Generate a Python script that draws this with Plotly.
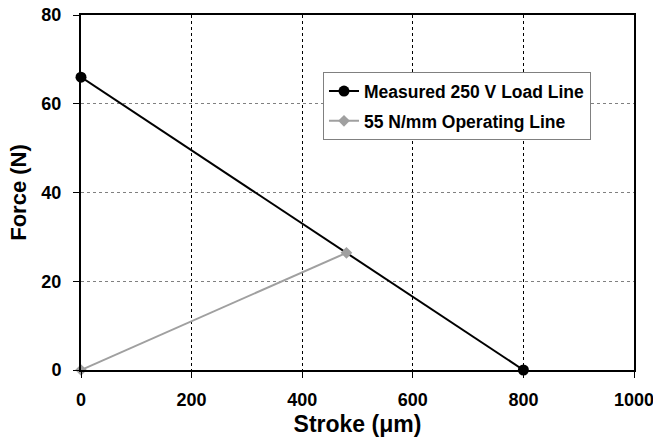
import plotly.graph_objects as go

load_x = [0, 800]
load_y = [66, 0]
op_x = [0, 480]
op_y = [0, 26.4]

x_ticks = [0, 200, 400, 600, 800, 1000]
y_ticks = [0, 20, 40, 60, 80]

fig = go.Figure()
fig.add_trace(go.Scatter(x=load_x, y=load_y, mode="lines+markers",
                         name="Measured 250 V Load Line", legendgroup="a",
                         line=dict(color="black", width=2),
                         marker=dict(symbol="circle", size=11, color="black"),
                         cliponaxis=False))
fig.add_trace(go.Scatter(x=op_x, y=op_y, mode="lines+markers",
                         name="55 N/mm Operating Line", legendgroup="b",
                         line=dict(color="#a0a0a0", width=2),
                         marker=dict(symbol="diamond", size=9, color="#a0a0a0"),
                         cliponaxis=False))

font = "Liberation Sans, Arial, sans-serif"
fig.update_layout(
    width=653, height=440,
    margin=dict(l=81, r=19, t=15, b=70),
    paper_bgcolor="white", plot_bgcolor="white",
    font=dict(family=font, color="black"),
    showlegend=True,
    legend=dict(x=0.4376, y=0.839, xanchor="left", yanchor="top",
                bgcolor="white", bordercolor="#808080", borderwidth=1,
                font=dict(size=17.5, family=font, color="black", weight="bold"),
                itemwidth=30, tracegroupgap=4),
    xaxis=dict(range=[0, 1000], tickvals=x_ticks, ticktext=[str(v) for v in x_ticks],
               showgrid=True, gridcolor="black", griddash="dot", gridwidth=1,
               showline=True, linecolor="black", linewidth=2, mirror=True,
               ticks="outside", ticklen=6, tickcolor="black",
               ticklabelstandoff=6, ticklabeloverflow="allow",
               tickfont=dict(size=18, family=font, weight="bold"),
               title=dict(text="Stroke (μm)", font=dict(size=23, family=font, weight="bold"),
                          standoff=7),
               zeroline=False, automargin=False),
    yaxis=dict(range=[0, 80], tickvals=y_ticks, ticktext=[str(v) for v in y_ticks],
               showgrid=True, gridcolor="#808080", griddash="dot", gridwidth=1,
               showline=True, linecolor="black", linewidth=2, mirror=True,
               ticks="outside", ticklen=6, tickcolor="black",
               ticklabelstandoff=8, ticklabeloverflow="allow",
               tickfont=dict(size=18, family=font, weight="bold"),
               title=dict(text="Force (N)", font=dict(size=22, family=font, weight="bold"),
                          standoff=9),
               zeroline=False, automargin=False),
)

fig.write_html("out.html",
               config={"displayModeBar": False},
               post_script="document.body.style.margin='0';document.body.style.overflow='hidden';")
